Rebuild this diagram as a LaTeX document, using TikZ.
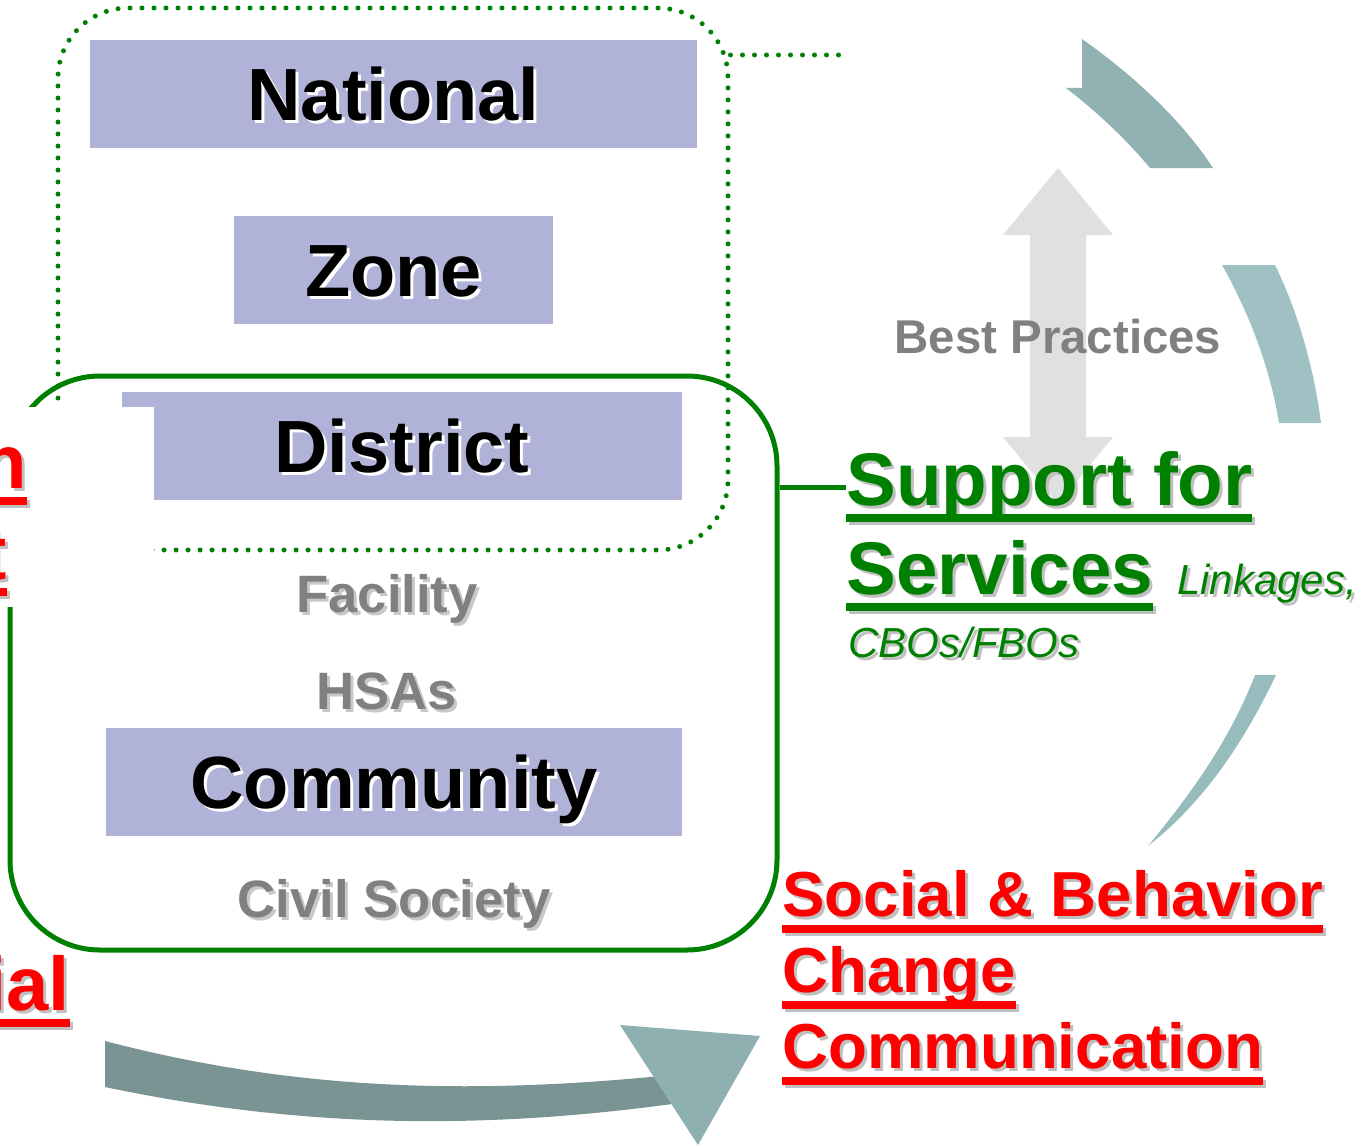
\documentclass[tikz,border=0pt]{standalone}
\usepackage{fontspec}
\setmainfont{Liberation Sans}
\usetikzlibrary{positioning}

\definecolor{lev}{RGB}{176,178,216}
\definecolor{grn}{RGB}{0,128,0}
\definecolor{txtgray}{RGB}{128,128,128}
\definecolor{shgray}{RGB}{200,200,200}
\definecolor{shred}{RGB}{192,192,192}
\definecolor{arrgray}{RGB}{224,224,224}
\definecolor{tealA}{RGB}{145,177,178}
\definecolor{tealB}{RGB}{160,193,195}
\definecolor{tealC}{RGB}{152,187,190}
\definecolor{tealD}{RGB}{122,148,148}
\definecolor{tealE}{RGB}{143,176,176}

% text with a drop shadow: main colour, shadow colour, text
\newcommand\shad[3]{\rlap{\kern1.5pt\raisebox{-1.5pt}{\color{#2}#3}}{\color{#1}#3}}
% thick underline
\newcommand\uln[1]{\setbox0\hbox{#1}\rlap{\rule[-8.5pt]{\wd0}{4pt}}\box0}

\begin{document}
\begin{tikzpicture}[x=0.5pt,y=-0.5pt,
  tierbox/.style={fill=lev,minimum width=#1,minimum height=54pt,inner sep=0pt,
    font=\fontsize{37pt}{44pt}\selectfont\bfseries,text height=26.5pt,text depth=0pt},
  tiertext/.style={anchor=base,inner sep=0pt,font=\fontsize{26.3pt}{30pt}\selectfont\bfseries},
  dotline/.style={grn,line width=2.5pt,dash pattern=on 0pt off 6pt,line cap=round},
  frameline/.style={grn,line width=2.5pt},
  suptext/.style={anchor=base west,inner sep=0pt,font=\fontsize{37.3pt}{44pt}\selectfont\bfseries},
  linktext/.style={anchor=base west,inner sep=0pt,font=\fontsize{21pt}{25pt}\selectfont\itshape},
  sbctext/.style={anchor=base west,inner sep=0pt,font=\fontsize{31.8pt}{38pt}\selectfont\bfseries},
  fragtext/.style={anchor=base east,inner sep=0pt,font=\fontsize{38pt}{44pt}\selectfont\bfseries}]

\useasboundingbox (0,0) rectangle (1364,1145);
\clip (0,0) rectangle (1364,1145);

% pieces of the circular arrow
\fill[tealA] (1082,39) .. controls (1140,80) and (1185,125) .. (1213,168) -- (1150,168)
  .. controls (1125,138) and (1097,112) .. (1066,88) -- (1082,88) -- cycle;
\fill[tealB] (1222,265) -- (1275,265) .. controls (1298,312) and (1314,368) .. (1321,423)
  -- (1279,423) .. controls (1270,368) and (1250,315) .. (1222,265) -- cycle;
\fill[tealC] (1255,675) -- (1276,675) .. controls (1240,750) and (1200,805) .. (1148,846)
  .. controls (1190,795) and (1230,740) .. (1255,675) -- cycle;
\fill[tealD] (105,1041) .. controls (300,1092) and (480,1095) .. (680,1074)
  -- (672,1104) .. controls (480,1130) and (300,1128) .. (105,1087) -- cycle;
\fill[tealE] (620,1025) -- (760,1036) -- (698,1145) -- cycle;

% double arrow for the best practices
\fill[arrgray] (1058,168) -- (1113,235) -- (1086,235) -- (1086,437) -- (1113,437)
  -- (1058,504) -- (1003,437) -- (1030,437) -- (1030,235) -- (1003,235) -- cycle;

% dotted frame round the upper levels
\node[draw,dotline,rounded corners=35pt,minimum width=335pt,minimum height=271pt,inner sep=0pt] (upper) at (393,279) {};
\coordinate (tail) at (840,55);
\draw[dotline] (upper.east |- tail) -- (tail);

% solid frame round district and below
\node[draw,frameline,rounded corners=45pt,minimum width=383.5pt,minimum height=287pt,inner sep=0pt] (frame) at (393.5,663) {};

\node[tierbox=303.5pt] (natl) at (393.5,94) {\shad{black}{white}{National}};
\node[tierbox=159.5pt] (zone) at (393.5,270) {\shad{black}{white}{Zone}};
\node[tierbox=280pt] (dist) at (402,446) {\shad{black}{white}{District}};
\node[tierbox=288pt] (comm) at (394,782) {\shad{black}{white}{Community}};

\fill[white] (-5,407) rectangle (154,607);

\node[tiertext] (fac) at (387,612) {\shad{txtgray}{shgray}{Facility}};
\node[tiertext] (hsa) at (387,709) {\shad{txtgray}{shgray}{HSAs}};
\node[tiertext] (civ) at (394,917) {\shad{txtgray}{shgray}{Civil Society}};
\node[tiertext,font=\fontsize{23.7pt}{27pt}\selectfont\bfseries,txtgray] (best) at (1058,353) {Best Practices};

\node[suptext] (sup1) at (846,505) {\shad{grn}{shred}{\uln{Support for}}};
\node[suptext] (sup2) at (846,594) {\shad{grn}{shred}{\uln{Services}}};
\node[linktext,right=11.5pt of sup2.base east,anchor=base west] (link) {\shad{grn}{shred}{Linkages,}};
\node[linktext] (cbo) at (848,657) {\shad{grn}{shred}{CBOs/FBOs}};
\draw[frameline] (sup1.west -| frame.east) -- (sup1.west);

\node[sbctext] (sbc1) at (782,916) {\shad{red}{shred}{\uln{Social \& Behavior}}};
\node[sbctext] (sbc2) at (782,992) {\shad{red}{shred}{\uln{Change}}};
\node[sbctext] (sbc3) at (782,1068) {\shad{red}{shred}{\uln{Communication}}};

\node[fragtext] (frag1) at (27,488) {\shad{red}{shred}{\uln{n}}};
\node[fragtext] (frag2) at (7,579) {\shad{red}{shred}{\uln{t}}};
\node[fragtext] (frag3) at (70,1010) {\shad{red}{shred}{\uln{ial}}};

\end{tikzpicture}
\end{document}
